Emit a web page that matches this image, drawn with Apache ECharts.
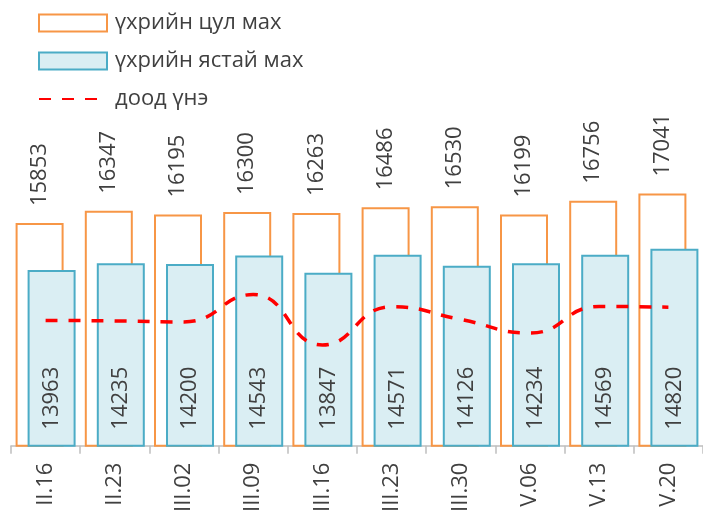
<!DOCTYPE html>
<html>
<head>
<meta charset="utf-8">
<script src="https://cdn.jsdelivr.net/npm/echarts@6/dist/echarts.min.js"></script>
<style>html,body{margin:0;padding:0;background:#fff}#c{width:703px;height:515px}</style>
</head>
<body>
<div id="c"></div>
<script>
var categories = ['II.16','II.23','III.02','III.09','III.16','III.23','III.30','V.06','V.13','V.20'];
var tsulMakh = [15853,16347,16195,16300,16263,16486,16530,16199,16756,17041];
var yastaiMakh = [13963,14235,14200,14543,13847,14571,14126,14234,14569,14820];
var doodUne = [11923,11903,11863,12968,10930,12474,11963,11413,12486,12458];
var seriesNames = ['үхрийн цул мах','үхрийн ястай мах','доод үнэ'];

var FONT = '"Open Sans", "Noto Sans", sans-serif';
var TXT = '#404040';
var chart = echarts.init(document.getElementById('c'));
chart.setOption({
  animation: false,
  backgroundColor: '#fff',
  legend: {
    orient: 'vertical', left: 38, top: 12, padding: 0,
    itemWidth: 68, itemHeight: 17, itemGap: 16,
    textStyle: {fontFamily: FONT, fontSize: 22, color: TXT, padding: [0,0,0,3]},
    data: [
      {name: seriesNames[0], icon: 'rect'},
      {name: seriesNames[1], icon: 'rect'},
      {name: seriesNames[2], itemStyle: {color: 'rgba(0,0,0,0)', borderColor: 'rgba(0,0,0,0)', borderWidth: 0}}
    ]
  },
  grid: {left: 11, right: -3, top: 100, bottom: 68},
  xAxis: {
    type: 'category', data: categories,
    axisLine: {lineStyle: {color: '#bfbfbf', width: 1.5}},
    axisTick: {show: true, length: 8, lineStyle: {color: '#bfbfbf', width: 1.5}},
    axisLabel: {rotate: 90, margin: 17, fontFamily: FONT, fontSize: 22, color: TXT}
  },
  yAxis: {type: 'value', min: 6870, max: 20819, show: false, splitLine: {show: false}},
  series: [
    {
      name: seriesNames[0], type: 'bar', data: tsulMakh,
      barWidth: 48, barGap: '-75%',
      itemStyle: {color: '#ffffff', borderColor: '#f79646', borderWidth: 2},
      label: {show: true, position: 'top', rotate: 90, align: 'left', verticalAlign: 'middle', distance: 17,
              fontFamily: FONT, fontSize: 22, color: TXT}
    },
    {
      name: seriesNames[1], type: 'bar', data: yastaiMakh,
      barWidth: 48,
      itemStyle: {color: '#daeef3', borderColor: '#4bacc6', borderWidth: 2},
      label: {show: true, position: 'insideBottom', rotate: 90, align: 'left', verticalAlign: 'middle', distance: 17,
              fontFamily: FONT, fontSize: 22, color: TXT}
    },
    {
      name: seriesNames[2], type: 'line', data: doodUne,
      smooth: 0.5, symbol: 'none',
      lineStyle: {color: '#ff0000', width: 3.5, type: [12, 11]},
      itemStyle: {color: '#ff0000'}
    }
  ]
});
</script>
</body>
</html>
